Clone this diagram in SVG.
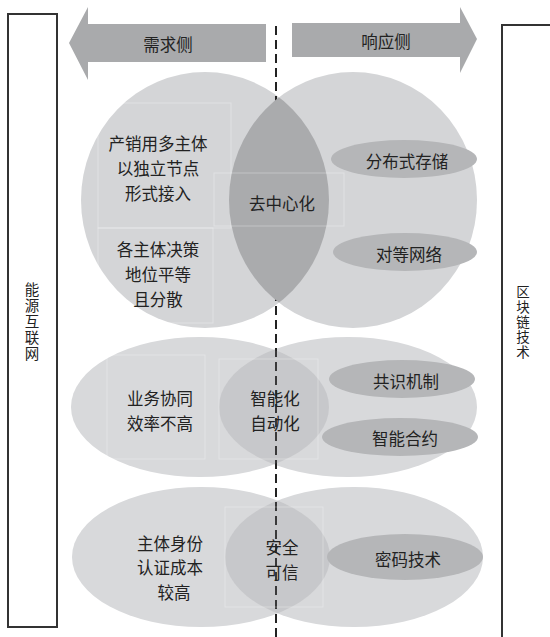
<svg xmlns="http://www.w3.org/2000/svg" width="550" height="637" viewBox="0 0 550 637">
<style>
text{font-family:"Noto Sans CJK SC","Noto Sans",sans-serif;fill:#222;text-anchor:middle;dominant-baseline:central}
.t{font-size:16.5px}
.v{font-size:14.5px;writing-mode:vertical-rl;letter-spacing:1.5px}
.vr{font-size:13.5px;writing-mode:vertical-rl;letter-spacing:1.5px}
.big{fill:#d4d5d7}
.big2{fill:#d8d9db}
.inner{fill:#b5b6b8}
.arrow{fill:#a9aaac}
.faint{fill:none;stroke:#ffffff;stroke-opacity:0.3;stroke-width:1}
.box{fill:none;stroke:#333;stroke-width:2}
</style>
<defs>
<clipPath id="cTop"><ellipse cx="205" cy="200" rx="124" ry="128"/></clipPath>
<clipPath id="cMid"><ellipse cx="200" cy="407" rx="129" ry="70"/></clipPath>
<clipPath id="cBot"><ellipse cx="201" cy="557" rx="129" ry="70"/></clipPath>
</defs>
<rect width="550" height="637" fill="#fff"/>

<g id="frame-left">
<rect class="box" x="8" y="14" width="49" height="613"/>
<text class="v" x="32" y="322">能源互联网</text>
</g>
<g id="frame-right">
<path class="box" d="M552 25 H502 V640"/>
<text class="vr" x="523" y="323">区块链技术</text>
</g>

<g id="arrow-demand">
<polygon class="arrow" points="266,24 88,24 88,7 69,43 88,80 88,62 266,62"/>
<text class="t" x="168" y="44">需求侧</text>
</g>
<g id="arrow-response">
<polygon class="arrow" points="292,23 460,23 460,7 477,39 460,73 460,57 292,57"/>
<text class="t" x="386" y="41">响应侧</text>
</g>

<g id="row-top">
<ellipse class="big" cx="205" cy="200" rx="124" ry="128"/>
<ellipse class="big" cx="353" cy="200" rx="124" ry="128"/>
<rect class="faint" x="98" y="103" width="133" height="125"/>
<rect class="faint" x="98" y="228" width="115" height="95"/>
</g>
<g id="row-mid">
<ellipse class="big2" cx="200" cy="407" rx="129" ry="70"/>
<ellipse class="big2" cx="348" cy="407" rx="129" ry="70"/>
</g>
<g id="row-bot">
<ellipse class="big2" cx="201" cy="557" rx="129" ry="70"/>
<ellipse class="big2" cx="354" cy="557" rx="129" ry="70"/>
</g>

<g id="connectors">
<line x1="276" y1="26" x2="276" y2="637" stroke="#222" stroke-width="2" stroke-dasharray="9 5"/>
</g>

<g id="lens-top">
<ellipse cx="353" cy="200" rx="124" ry="128" fill="#aaabad" clip-path="url(#cTop)"/>
<rect class="faint" x="214" y="173" width="130" height="53"/>
<text class="t" x="282" y="203">去中心化</text>
</g>
<g id="lens-mid">
<ellipse cx="348" cy="407" rx="129" ry="70" fill="#8e8f92" fill-opacity="0.22" clip-path="url(#cMid)"/>
<rect class="faint" x="107" y="355" width="98" height="104"/>
<rect class="faint" x="219" y="359" width="99" height="100"/>
<text class="t"><tspan x="275" y="398">智能化</tspan><tspan x="275" y="423">自动化</tspan></text>
</g>
<g id="lens-bot">
<ellipse cx="354" cy="557" rx="129" ry="70" fill="#8e8f92" fill-opacity="0.22" clip-path="url(#cBot)"/>
<rect class="faint" x="225" y="507" width="98" height="100"/>
<text class="t"><tspan x="282" y="547">安全</tspan><tspan x="282" y="572">可信</tspan></text>
</g>

<g id="demand-top">
<text class="t"><tspan x="158" y="143">产销用多主体</tspan><tspan x="158" y="168">以独立节点</tspan><tspan x="158" y="193">形式接入</tspan></text>
<text class="t"><tspan x="158" y="249">各主体决策</tspan><tspan x="158" y="274">地位平等</tspan><tspan x="158" y="299">且分散</tspan></text>
</g>
<g id="demand-mid">
<text class="t"><tspan x="160" y="398">业务协同</tspan><tspan x="160" y="423">效率不高</tspan></text>
</g>
<g id="demand-bot">
<text class="t"><tspan x="170" y="543">主体身份</tspan><tspan x="170" y="567">认证成本</tspan><tspan x="174" y="592">较高</tspan></text>
</g>

<g id="node-storage">
<ellipse class="inner" cx="404" cy="159" rx="73" ry="19"/>
<text class="t" x="407" y="161">分布式存储</text>
</g>
<g id="node-p2p">
<ellipse class="inner" cx="405" cy="252" rx="72" ry="19"/>
<text class="t" x="409" y="254">对等网络</text>
</g>
<g id="node-consensus">
<ellipse class="inner" cx="402" cy="379" rx="73" ry="19"/>
<text class="t" x="406" y="381">共识机制</text>
</g>
<g id="node-contract">
<ellipse class="inner" cx="400" cy="437" rx="78" ry="19"/>
<text class="t" x="405" y="438">智能合约</text>
</g>
<g id="node-crypto">
<ellipse class="inner" cx="405" cy="557" rx="78" ry="23"/>
<text class="t" x="408" y="559">密码技术</text>
</g>
</svg>
